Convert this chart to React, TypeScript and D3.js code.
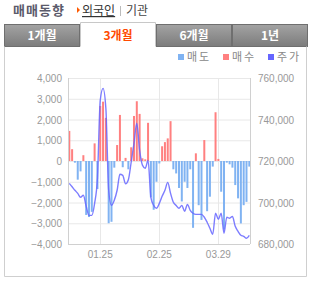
import React from 'react'
import * as d3 from 'd3'

// net trading per day (negative = 매도, positive = 매수), roughly 3 months of trading days
const netVolume = [
  1450, 570, -80, -900, -500, 280, -2600, -2700, -2450, 850,
  -1350, 2650, 2860, 2080, -3000, -2930, -320, 770, 2220, -300,
  150, -400, 660, 2170, 2880, 2270, 130, 80, 1840, -1750,
  -2350, -1000, -120, 710, 910, 1090, 1920, -400, -600, -1300,
  -1950, -1000, -1300, -400, -3220, 370, -2130, -2840, 1010, -2420,
  -1720, -270, 2350, 100, -1480, -3300, -80, -160, -320, -1160,
  -1800, -3010, -2130, -1970, -270
]

const price = [
  709200, 707600, 705900, 704400, 702500, 703500, 698200, 693800, 693800, 699600,
  711700, 749200, 755000, 745400, 705900, 698600, 701100, 705900, 713600, 713100,
  709000, 711000, 719400, 728500, 738200, 725200, 718000, 716500, 720300, 702500,
  698600, 697200, 699600, 703000, 705900, 709700, 704400, 700100, 698600, 697200,
  698600, 695800, 699100, 696200, 694800, 694300, 694300, 694300, 692900, 690500,
  687600, 684700, 694800, 691900, 694800, 685200, 692900, 692400, 693300, 688500,
  686100, 684200, 683700, 682800, 684200
]

const xTickIdx = [11, 32, 53]
const xTickLabels = ['01.25', '02.25', '03.29']
const leftTicks = [4000, 3000, 2000, 1000, 0, -1000, -2000, -3000, -4000]
const rightTicks = [760000, 740000, 720000, 700000, 680000]
const tabs = ['1개월', '3개월', '6개월', '1년']
const legendItems = [
  { name: '매도', color: '#80b3f2' },
  { name: '매수', color: '#ff8080' },
  { name: '주가', color: '#6666ff' }
]

const KR = '"Noto Sans CJK KR", "Noto Sans", sans-serif'
const NUM = '"Liberation Sans", Arial, sans-serif'

export default function App() {
  let left = 68, right = 250, top = 78, bottom = 244

  var x = d3.scaleLinear().domain([0, netVolume.length - 1]).range([69.3, 249.3])
  var y = d3.scaleLinear().domain([-4000, 4000]).range([bottom, top])
  var y2 = d3.scaleLinear().domain([680000, 760000]).range([bottom, top])

  const line = d3.line<number>()
    .x((d, i) => x(i))
    .y(d => y2(d))
    .curve(d3.curveMonotoneX)

  const tabX = d3.scaleBand().domain(tabs).range([4, 308])

  return (
    <svg width={314} height={282} style={{ position: 'absolute', left: 0, top: 0, background: '#fff' }}>
      <defs>
        <linearGradient id="tabgrad" x1="0" y1="0" x2="0" y2="1">
          <stop offset="0%" stopColor="#a3a3a3" />
          <stop offset="100%" stopColor="#7c7c7c" />
        </linearGradient>
        <clipPath id="plotclip">
          <rect x={left} y={top - 2} width={right - left} height={bottom - top + 4} />
        </clipPath>
      </defs>

      {/* header */}
      <text x={13} y={15} fontFamily={KR} fontSize={13} fontWeight="bold" fill="#5b5b6b" letterSpacing={1}>매매동향</text>
      <path d="M77,7 L80,10 L77,13 Z" fill="#ff5a00" />
      <text x={82} y={15} fontFamily={KR} fontSize={12} fill="#333" textDecoration="underline">외국인</text>
      <line x1={120.5} x2={120.5} y1={6} y2={16} stroke="#bbb" />
      <text x={126} y={15} fontFamily={KR} fontSize={12} fill="#444">기관</text>

      {/* tabs */}
      {tabs.map((t, i) => {
        const tx = tabX(t)!
        const w = tabX.bandwidth()
        const active = i === 1
        return (
          <g key={t}>
            {active
              ? <path d={`M${tx + 0.5},46.5 V22.5 H${tx + w - 0.5} V46.5`} fill="#fff" stroke="#c8c8c8" />
              : <rect x={tx + 0.5} y={24.5} width={w - 1} height={22} fill="url(#tabgrad)" stroke="#6f6f6f" />}
            <text x={tx + w / 2} y={39.5} textAnchor="middle" fontFamily={KR} fontSize={12}
              fontWeight="bold" fill={active ? '#ff4a00' : '#fff'}>{t}</text>
          </g>
        )
      })}
      {/* frame */}
      <path d="M4.5,46.5 V276.5 H306.5 V46.5" fill="none" stroke="#cfcfcf" />

      {/* legend */}
      {legendItems.map((d, i) => (
        <g key={d.name} transform={`translate(${178 + i * 45},54)`}>
          <rect x={0} y={0} width={6} height={6} fill={d.color} />
          <text x={9} y={7} fontFamily={KR} fontSize={11} fill="#888" letterSpacing={2}>{d.name}</text>
        </g>
      ))}

      {/* grid */}
      {leftTicks.map(t => (
        <line key={t} x1={left} x2={right} y1={y(t) + 0.5} y2={y(t) + 0.5} stroke="#e8e8e8" />
      ))}
      {xTickIdx.map(i => (
        <line key={i} x1={Math.round(x(i)) + 0.5} x2={Math.round(x(i)) + 0.5} y1={top} y2={bottom} stroke="#e8e8e8" />
      ))}

      {/* bars */}
      <g clipPath="url(#plotclip)">
        {netVolume.map((v, i) => (
          <rect key={i} x={x(i) - 1} width={2}
            y={v >= 0 ? y(v) : y(0)}
            height={Math.abs(y(v) - y(0))}
            fill={v >= 0 ? '#ff8080' : '#80b3f2'} />
        ))}
        <path d={line(price)!} fill="none" stroke="#6666ff" strokeWidth={1.4} strokeOpacity={0.85} />
      </g>

      {/* axis lines */}
      <line x1={left + 0.5} x2={left + 0.5} y1={top} y2={bottom} stroke="#d0d0d0" />
      <line x1={right + 0.5} x2={right + 0.5} y1={top} y2={bottom} stroke="#d0d0d0" />
      <line x1={left} x2={right} y1={bottom + 0.5} y2={bottom + 0.5} stroke="#d0d0d0" />

      {/* tick labels */}
      {leftTicks.map(t => (
        <text key={t} x={62} y={y(t) + 4} textAnchor="end" fontFamily={NUM} fontSize={10} fill="#999">
          {d3.format(',')(t)}
        </text>
      ))}
      {rightTicks.map(t => (
        <text key={t} x={258} y={y2(t) + 4} fontFamily={NUM} fontSize={10} fill="#999">
          {d3.format(',')(t)}
        </text>
      ))}
      {xTickIdx.map((idx, k) => (
        <text key={idx} x={x(idx)} y={258} textAnchor="middle" fontFamily={NUM} fontSize={10} fill="#999">
          {xTickLabels[k]}
        </text>
      ))}
    </svg>
  )
}
